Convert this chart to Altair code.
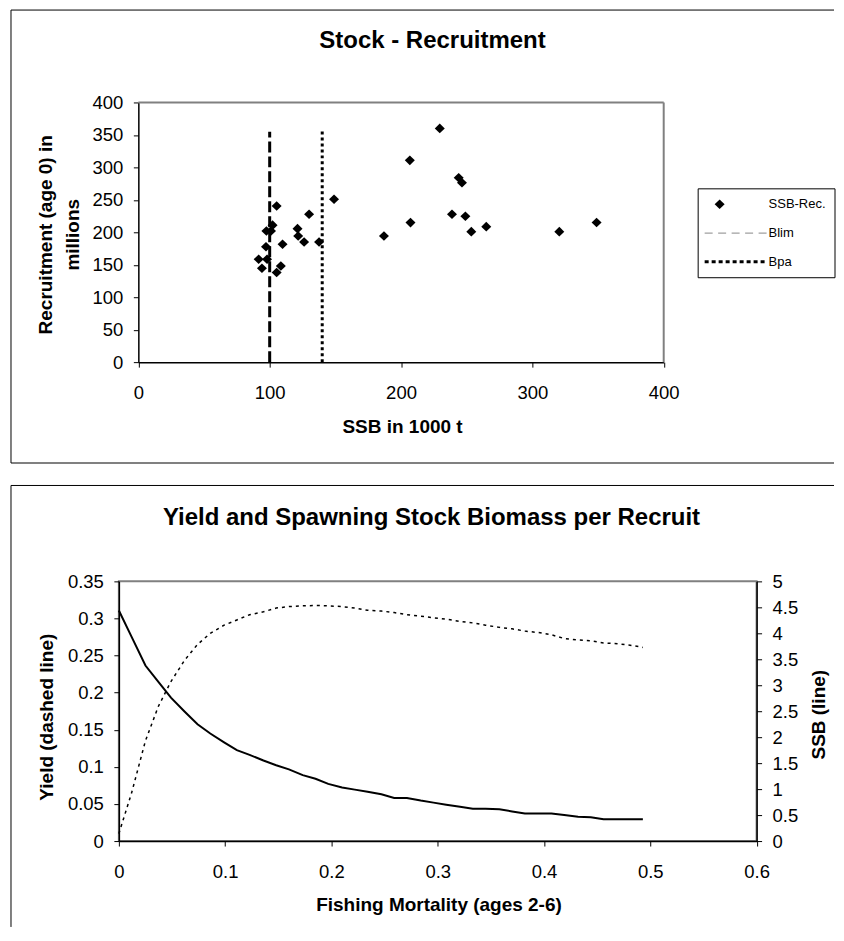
import altair as alt
import pandas as pd

FONT = "Liberation Sans, Arial, Helvetica, sans-serif"

# ---------------- Stock - Recruitment ----------------
sr_ssb = [91.6, 98.0, 94.1, 97.2, 97.5, 101.0, 102.2, 105.3, 109.8, 108.5,
          105.3, 121.2, 121.7, 126.2, 130.0, 137.6, 149.0, 187.0, 206.7, 207.2,
          229.5, 243.9, 246.4, 238.8, 249.0, 253.5, 264.9, 320.5, 348.9]
sr_rec = [158.5, 158.5, 144.6, 177.7, 202.0, 202.0, 211.0, 240.5, 181.5, 148.0,
          138.0, 205.6, 194.4, 185.0, 227.7, 185.0, 250.8, 194.4, 310.8, 214.9,
          360.0, 284.0, 276.4, 227.7, 224.6, 201.0, 208.7, 201.0, 215.0]
blim_value = 100
bpa_value = 140
blim_top = 355
bpa_top = 357
series_labels = ["SSB-Rec.", "Blim", "Bpa"]
sr_domain = [0, 400]
sr_x_ticks = [0, 100, 200, 300, 400]
sr_y_ticks = [0, 50, 100, 150, 200, 250, 300, 350, 400]

# ---------------- Yield / SSB per recruit ----------------
f_values = [0.0, 0.012, 0.025, 0.037, 0.049, 0.062, 0.074, 0.086, 0.099, 0.111,
            0.123, 0.136, 0.148, 0.160, 0.173, 0.185, 0.197, 0.210, 0.222, 0.234,
            0.247, 0.259, 0.271, 0.284, 0.296, 0.308, 0.321, 0.333, 0.345, 0.358,
            0.370, 0.382, 0.395, 0.407, 0.419, 0.432, 0.444, 0.456, 0.469, 0.481,
            0.493]
yield_values = [0.010, 0.065, 0.135, 0.181, 0.215, 0.244, 0.265, 0.280, 0.291, 0.298,
                0.305, 0.309, 0.314, 0.316, 0.317, 0.3175, 0.317, 0.316, 0.314, 0.311,
                0.310, 0.308, 0.305, 0.303, 0.301, 0.299, 0.296, 0.294, 0.291, 0.288,
                0.286, 0.283, 0.281, 0.278, 0.273, 0.271, 0.270, 0.267, 0.266, 0.264,
                0.261]
ssb_values = [4.44, 3.93, 3.38, 3.07, 2.76, 2.49, 2.25, 2.07, 1.90, 1.75,
              1.66, 1.55, 1.46, 1.38, 1.27, 1.20, 1.10, 1.03, 0.99, 0.95,
              0.90, 0.83, 0.83, 0.78, 0.74, 0.70, 0.66, 0.62, 0.62, 0.61,
              0.57, 0.53, 0.53, 0.53, 0.50, 0.47, 0.46, 0.42, 0.42, 0.42,
              0.42]
ypr_x_ticks = [0, 0.1, 0.2, 0.3, 0.4, 0.5, 0.6]
yield_ticks = [0, 0.05, 0.1, 0.15, 0.2, 0.25, 0.3, 0.35]
ssb_ticks = [0, 0.5, 1, 1.5, 2, 2.5, 3, 3.5, 4, 4.5, 5]

# ---------------- legend symbol shapes (style) ----------------
U = 8.0  # px per path unit at symbol size 256


def rect_path(x0, x1, y0, y1):
    return (f"M{x0/U:.4f},{y0/U:.4f}H{x1/U:.4f}V{y1/U:.4f}"
            f"H{x0/U:.4f}Z")


diamond_path = f"M0,{-4.8/U:.4f}L{5/U:.4f},0L0,{4.8/U:.4f}L{-5/U:.4f},0Z"
blim_path = "".join(rect_path(s, s + 8, -0.6, 0.6)
                    for s in [-15, -1.5, 12, 25.5, 39])
bpa_path = "".join(rect_path(-15 + 7 * k, -11 + 7 * k, -1.5, 1.5)
                   for k in range(9))


def axis(values, title, orient, **kw):
    return alt.Axis(values=values, title=title, orient=orient, format="~r",
                    grid=False, labelFont=FONT, labelFontSize=18.5,
                    labelColor="black", labelFlush=False, labelOverlap=False,
                    tickSize=5, tickColor="black", tickWidth=1,
                    domainColor="black", domainWidth=1.5,
                    titleFont=FONT, titleFontSize=19, titleFontWeight="bold",
                    titleColor="black", titleBaseline="alphabetic",
                    titleAlign="center", **kw)


def title_axis(text, tx, ty):
    return alt.Axis(orient="top", title=text, labels=False, ticks=False,
                    domain=False, grid=False, titleFont=FONT, titleFontSize=24,
                    titleFontWeight="bold", titleColor="black",
                    titleBaseline="alphabetic", titleAlign="center",
                    titleAngle=0, titleX=tx, titleY=ty, minExtent=0,
                    maxExtent=0, titlePadding=0, offset=0)


one = pd.DataFrame({"k": [0]})


def hline(y, x0, x1):
    return alt.Chart(one).mark_rule(color="black", strokeWidth=1).encode(
        x=alt.value(x0), x2=alt.value(x1), y=alt.value(y))


def vline(x, y0, y1):
    return alt.Chart(one).mark_rule(color="black", strokeWidth=1).encode(
        x=alt.value(x), y=alt.value(y0), y2=alt.value(y1))


# ---------------- top chart ----------------
# plot area shares its left edge with the lower chart; the axes start GAP px in
GAP = 19.5
W1, H1 = 526 + GAP, 260
pts = pd.DataFrame({"SSB": sr_ssb, "Rec": sr_rec, "series": "SSB-Rec."})
refs = pd.DataFrame({"SSB": [blim_value, bpa_value], "Rec": [0, 0],
                     "Rec2": [blim_top, bpa_top], "name": ["Blim", "Bpa"]})
border_top = pd.DataFrame({"SSB": [sr_domain[0]], "SSB2": [sr_domain[1]],
                           "Rec": [sr_domain[1]]})
border_right = pd.DataFrame({"SSB": [sr_domain[1]], "Rec": [sr_domain[0]],
                             "Rec2": [sr_domain[1]]})

xs1 = alt.Scale(domain=sr_domain, range=[GAP, W1], nice=False)
ys1 = alt.Scale(domain=sr_domain, nice=False)

legend = alt.Legend(title=None, orient="none", legendX=560 + GAP, legendY=86,
                    strokeColor="black", fillColor="white", padding=8,
                    symbolSize=256, symbolStrokeWidth=0, symbolOffset=6,
                    labelOffset=41, labelFont=FONT, labelFontSize=13,
                    labelColor="black", rowPadding=13.8, symbolOpacity=1)

scatter = alt.Chart(pts).mark_point(filled=True, size=256, opacity=1,
                                    strokeWidth=0).encode(
    x=alt.X("SSB:Q", scale=xs1,
            axis=axis(sr_x_ticks, "SSB in 1000 t", "bottom", labelPadding=16,
                      titleX=264 + GAP, titleY=70, titleAngle=0)),
    y=alt.Y("Rec:Q", scale=ys1,
            axis=axis(sr_y_ticks, ["Recruitment (age 0) in", "millions"], "left",
                      labelPadding=10.5, titleX=-87, titleY=132, titleAngle=270,
                      titleLineHeight=26.7, offset=-GAP)),
    shape=alt.Shape("series:N",
                    scale=alt.Scale(domain=series_labels,
                                    range=[diamond_path, blim_path, bpa_path]),
                    legend=legend),
    color=alt.Color("series:N",
                    scale=alt.Scale(domain=series_labels,
                                    range=["black", "#a0a0a0", "black"]),
                    legend=legend),
)

blim_rule = alt.Chart(refs).transform_filter(alt.datum.name == "Blim").mark_rule(
    color="black", strokeWidth=3, strokeDash=[11, 4]).encode(
    x=alt.X("SSB:Q", scale=xs1,
            axis=title_axis("Stock - Recruitment", 294 + GAP, -54.7)),
    y=alt.Y("Rec:Q", scale=ys1, axis=None), y2="Rec2:Q")
bpa_rule = alt.Chart(refs).transform_filter(alt.datum.name == "Bpa").mark_rule(
    color="black", strokeWidth=3, strokeDash=[3, 3]).encode(
    x=alt.X("SSB:Q", scale=xs1, axis=None),
    y=alt.Y("Rec:Q", scale=ys1, axis=None), y2="Rec2:Q")

gray_top = alt.Chart(border_top).mark_rule(color="#808080", strokeWidth=2).encode(
    x=alt.X("SSB:Q", scale=xs1, axis=None), x2="SSB2:Q",
    y=alt.Y("Rec:Q", scale=ys1, axis=None))
gray_right = alt.Chart(border_right).mark_rule(color="#808080",
                                               strokeWidth=2).encode(
    x=alt.X("SSB:Q", scale=xs1, axis=None),
    y=alt.Y("Rec:Q", scale=ys1, axis=None), y2="Rec2:Q")

top = alt.layer(
    gray_top, gray_right, blim_rule, bpa_rule, scatter,
    hline(-92.5, -108, 716), hline(361, -108, 716), vline(-108, -92.5, 361),
).resolve_axis(x="independent", y="independent").properties(
    width=W1, height=H1, view=alt.ViewBackground(stroke="transparent"))

# ---------------- bottom chart ----------------
W2, H2 = 638.5, 260
ypr = pd.DataFrame({"F": f_values, "Yield": yield_values, "SSB": ssb_values})
xs2 = alt.Scale(domain=[0, 0.6], nice=False)

yield_line = alt.Chart(ypr).mark_line(color="black", strokeWidth=1.5,
                                      strokeDash=[3, 4]).encode(
    x=alt.X("F:Q", scale=xs2,
            axis=axis(ypr_x_ticks, "Fishing Mortality (ages 2-6)", "bottom",
                      labelPadding=16, titleX=320, titleY=70, titleAngle=0)),
    y=alt.Y("Yield:Q", scale=alt.Scale(domain=[0, 0.35], nice=False),
            axis=axis(yield_ticks, "Yield (dashed line)", "left",
                      labelPadding=10.5, titleX=-66.5, titleY=135.5,
                      titleAngle=270)),
)
ssb_line = alt.Chart(ypr).mark_line(color="black", strokeWidth=2).encode(
    x=alt.X("F:Q", scale=xs2,
            axis=title_axis("Yield and Spawning Stock Biomass per Recruit",
                            312.5, -56.5)),
    y=alt.Y("SSB:Q", scale=alt.Scale(domain=[0, 5], nice=False),
            axis=axis(ssb_ticks, "SSB (line)", "right", labelPadding=10.5,
                      titleX=68, titleY=133, titleAngle=270)),
)

bottom = alt.layer(
    yield_line, ssb_line,
    hline(-96, -108, 716), vline(-108, -96, 346),
).resolve_scale(y="independent").resolve_axis(
    x="independent", y="independent").properties(width=W2, height=H2)

chart = alt.vconcat(top, bottom, spacing=18.5).resolve_legend(
    color="independent", shape="independent"
).properties(
    padding={"left": 1, "top": 0, "right": 0, "bottom": 0},
    background="white",
).configure_view(stroke="#808080", strokeWidth=2)

chart.save("out.html", embed_options={"renderer": "svg", "actions": False})
